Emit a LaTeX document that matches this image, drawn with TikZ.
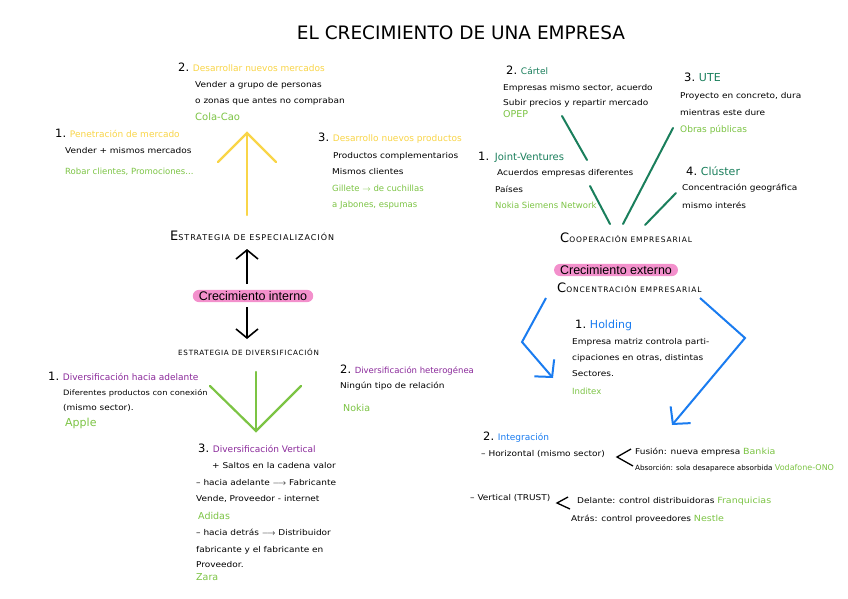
\documentclass[tikz,border=0pt]{standalone}
\usepackage{fontspec}
\setmainfont{DejaVu Sans}
\newfontfamily\pinkfont{Liberation Sans}
\newfontfamily\bodyf[FakeStretch=1.12]{DejaVu Sans}
\usetikzlibrary{arrows.meta}
\definecolor{yelc}{HTML}{F9D548}
\definecolor{limec}{HTML}{7CC444}
\definecolor{dgreen}{HTML}{1A7F5C}
\definecolor{purp}{HTML}{8B2A9B}
\definecolor{bluec}{HTML}{1A7CF0}
\definecolor{pinkc}{HTML}{F390CC}
\newcommand\nm[1]{{\fontsize{11.5}{12}\selectfont #1}}
\newcommand\fsc[4]{{\fontsize{#1}{#1}\selectfont #3}{\fontsize{#2}{#2}\selectfont\addfontfeature{LetterSpace=12}#4}}
\tikzset{
  tx/.style={anchor=west, inner sep=0pt, font=\bodyf\fontsize{8}{9}\selectfont},
  gx/.style={anchor=west, inner sep=0pt, text=limec, font=\fontsize{8.5}{10}\selectfont},
  hx/.style={anchor=west, inner sep=0pt, font=\fontsize{9}{10}\selectfont},
  pinkbox/.style={fill=pinkc, rounded corners=6pt, inner xsep=6pt, inner ysep=1.5pt, font=\pinkfont\fontsize{12.5}{13}\selectfont},
  scx/.style={anchor=west, inner sep=0pt},
  blk/.style={line width=1.6pt, -{Straight Barb[length=9pt,width=22pt]}},
  yl/.style={draw=yelc, line width=2.2pt, line cap=round},
  gl/.style={draw=limec, line width=2.2pt, line cap=round},
  dg/.style={draw=dgreen, line width=2pt, line cap=round},
  bl/.style={draw=bluec, line width=2pt, -{Straight Barb[length=12pt,width=26pt]}},
}
\begin{document}
\begin{tikzpicture}[x=1pt,y=-1pt]
\useasboundingbox (0,0) rectangle (848,599);
\fill[white] (0,0) rectangle (848,599);
% title
\node[inner sep=0pt, font=\fontsize{18.5}{19}\selectfont] (title) at (461,33) {EL CRECIMIENTO DE UNA EMPRESA};

% ---------- left top: especialización
\node[hx] (d2) at (178,67) {\nm{2.} \textcolor{yelc}{Desarrollar nuevos mercados}};
\node[tx] (d2a) at (195,85) {Vender a grupo de personas};
\node[tx] (d2b) at (195,101) {o zonas que antes no compraban};
\node[gx, font=\fontsize{10}{11}\selectfont] (d2c) at (195,117) {Cola-Cao};

\node[hx] (d1) at (55,133) {\nm{1.} \textcolor{yelc}{Penetración de mercado}};
\node[tx] (d1a) at (65,151) {Vender + mismos mercados};
\node[gx] (d1b) at (65,172) {Robar clientes, Promociones...};

\node[hx] (d3) at (318,138) {\nm{3.} \textcolor{yelc}{Desarrollo nuevos productos}};
\node[tx] (d3a) at (333,156) {Productos complementarios};
\node[tx] (d3b) at (332,172) {Mismos clientes};
\node[gx] (d3c) at (332,188) {Gillete $\rightarrow$ de cuchillas};
\node[gx] (d3d) at (332,205) {a Jabones, espumas};

\coordinate (ytip) at (247,133);
\coordinate (ybase) at (247,215);
\coordinate (yl1) at (218,162);
\coordinate (yr1) at (276,162);
\draw[yl] (ybase) -- (ytip);
\draw[yl] (yl1) -- (ytip) -- (yr1);

\node[scx] (espec) at (170,236) {\fsc{13}{8}{E}{STRATEGIA DE ESPECIALIZACIÓN}};

\node[pinkbox] (cint) at (253,296) {Crecimiento interno};
\coordinate (up0) at (247,284);
\coordinate (up1) at (247,249);
\coordinate (dn0) at (247,307);
\coordinate (dn1) at (247,339);
\draw[blk] (up0) -- (up1);
\draw[blk] (dn0) -- (dn1);

\node[scx] (diver) at (178,352) {{\fontsize{7.2}{8}\selectfont\addfontfeature{LetterSpace=10}ESTRATEGIA DE DIVERSIFICACIÓN}};

\coordinate (gtip) at (256,431);
\coordinate (gtop) at (256,372);
\coordinate (gl1) at (210,386);
\coordinate (gr1) at (301,386);
\draw[gl] (gtop) -- (gtip);
\draw[gl] (gl1) -- (gtip) -- (gr1);

\node[hx] (v1) at (48,376) {\nm{1.} \textcolor{purp}{Diversificación hacia adelante}};
\node[tx, font=\bodyf\fontsize{7.4}{9}\selectfont] (v1a) at (63,393) {Diferentes productos con conexión};
\node[tx] (v1b) at (63,408) {(mismo sector).};
\node[gx, font=\fontsize{11}{12}\selectfont] (v1c) at (65,423) {Apple};

\node[hx, font=\fontsize{8.5}{10}\selectfont] (v2) at (340,370) {\nm{2.} \textcolor{purp}{Diversificación heterogénea}};
\node[tx] (v2a) at (340,386) {Ningún tipo de relación};
\node[gx, font=\fontsize{9.5}{10}\selectfont] (v2b) at (343,408) {Nokia};

\node[hx] (v3) at (198,448) {\nm{3.} \textcolor{purp}{Diversificación Vertical}};
\node[tx] (v3a) at (212,466) {+ Saltos en la cadena valor};
\node[tx] (v3b) at (196,483) {– hacia adelante $\longrightarrow$ Fabricante};
\node[tx] (v3c) at (196,499) {Vende, Proveedor - internet};
\node[gx, font=\fontsize{9.5}{10}\selectfont] (v3d) at (198,516) {Adidas};
\node[tx] (v3e) at (196,532) {– hacia detrás $\longrightarrow$ Distribuidor};
\node[tx] (v3f) at (196,550) {fabricante y el fabricante en};
\node[tx] (v3g) at (196,565) {Proveedor.};
\node[gx, font=\fontsize{9.5}{10}\selectfont] (v3h) at (196,577) {Zara};

% ---------- right: cooperación
\node[hx] (c2) at (506,70) {\nm{2.} \textcolor{dgreen}{Cártel}};
\node[tx] (c2a) at (503,88) {Empresas mismo sector, acuerdo};
\node[tx] (c2b) at (503,103) {Subir precios y repartir mercado};
\node[gx, font=\fontsize{9.5}{10}\selectfont] (c2c) at (503,114) {OPEP};

\node[hx] (c1) at (478,157) {\nm{1.}\ \ \textcolor{dgreen}{\fontsize{10}{11}\selectfont Joint-Ventures}};
\node[tx] (c1a) at (497,173) {Acuerdos empresas diferentes};
\node[tx] (c1b) at (495,189) {Países};
\node[gx] (c1c) at (495,205) {Nokia Siemens Network};

\node[hx] (c3) at (684,77) {\nm{3.} \textcolor{dgreen}{\fontsize{11}{12}\selectfont UTE}};
\node[tx] (c3a) at (680,96) {Proyecto en concreto, dura};
\node[tx] (c3b) at (680,113) {mientras este dure};
\node[gx, font=\fontsize{9}{10}\selectfont] (c3c) at (680,130) {Obras públicas};

\node[hx] (c4) at (686,171) {\nm{4.} \textcolor{dgreen}{\fontsize{11}{12}\selectfont Clúster}};
\node[tx] (c4a) at (682,188) {Concentración geográfica};
\node[tx] (c4b) at (682,205) {mismo interés};

\coordinate (k1a) at (562,116);
\coordinate (k1b) at (587,160);
\coordinate (k2a) at (590,186);
\coordinate (k2b) at (610,224);
\coordinate (k3a) at (673,128);
\coordinate (k3b) at (623,224);
\coordinate (k4a) at (676,193);
\coordinate (k4b) at (645,225);
\draw[dg] (k1a) -- (k1b);
\draw[dg] (k2a) -- (k2b);
\draw[dg] (k3a) -- (k3b);
\draw[dg] (k4a) -- (k4b);

\node[scx] (coop) at (560,238) {\fsc{13}{7.5}{C}{OOPERACIÓN EMPRESARIAL}};
\node[pinkbox] (cext) at (616,270) {Crecimiento externo};
\node[scx] (conc) at (557,288) {\fsc{13}{7.5}{C}{ONCENTRACIÓN EMPRESARIAL}};

\coordinate (b1a) at (546,298);
\coordinate (b1m) at (522,342);
\coordinate (b1b) at (553,378);
\coordinate (b2a) at (700,298);
\coordinate (b2m) at (745,338);
\coordinate (b2b) at (672,425);
\draw[bl] (b1a) -- (b1m) -- (b1b);
\draw[bl] (b2a) -- (b2m) -- (b2b);

\node[hx] (h1) at (575,325) {\nm{1.} \textcolor{bluec}{\fontsize{11}{12}\selectfont Holding}};
\node[tx] (h1a) at (572,342) {Empresa matriz controla parti-};
\node[tx] (h1b) at (572,358) {cipaciones en otras, distintas};
\node[tx] (h1c) at (572,374) {Sectores.};
\node[gx] (h1d) at (572,391) {Inditex};

\node[hx] (i2) at (483,437) {\nm{2.} \textcolor{bluec}{Integración}};
\node[tx] (i2a) at (481,454) {– Horizontal (mismo sector)};
\draw[line width=1.3pt] (631,449) -- (617,457) -- (633,466);
\node[tx] (i2b) at (635,452) {Fusión: nueva empresa \textcolor{limec}{\fontsize{8.5}{9}\selectfont Bankia}};
\node[tx, font=\fontsize{7.2}{8}\selectfont] (i2c) at (635,468) {Absorción: sola desaparece absorbida \textcolor{limec}{\fontsize{8}{9}\selectfont Vodafone-ONO}};
\node[tx] (i2d) at (470,498) {– Vertical (TRUST)};
\draw[line width=1.3pt] (568,497) -- (557,503) -- (570,509);
\node[tx] (i2e) at (577,501) {Delante: control distribuidoras \textcolor{limec}{\fontsize{8.5}{9}\selectfont Franquicias}};
\node[tx] (i2f) at (571,519) {Atrás: control proveedores \textcolor{limec}{\fontsize{8.5}{9}\selectfont Nestle}};
\end{tikzpicture}
\end{document}
